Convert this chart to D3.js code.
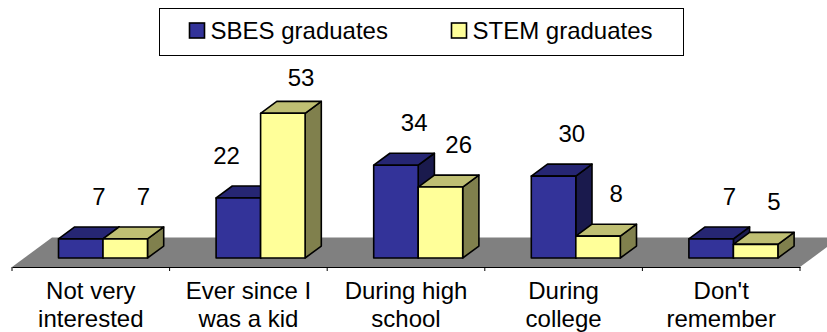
<!DOCTYPE html>
<html>
<head>
<meta charset="utf-8">
<script src="https://cdn.jsdelivr.net/npm/d3@7"></script>
<style>
  html, body { margin: 0; padding: 0; background: #fff; }
  svg { display: block; }
  text { font-family: "Liberation Sans", Arial, sans-serif; fill: #000; }
</style>
</head>
<body>
<svg id="chart" width="827" height="332"></svg>
<script>
// Data
const categories = [
  ["Not very", "interested"],
  ["Ever since I", "was a kid"],
  ["During high", "school"],
  ["During", "college"],
  ["Don't", "remember"]
];
const seriesNames = ["SBES graduates", "STEM graduates"];
const sbesValues = [7, 22, 34, 30, 7];
const stemValues = [7, 53, 26, 8, 5];

// Colours: front face, top face (75%), side face (50%)
const palette = {
  "SBES graduates": { front: "#333399", top: "#262673", side: "#1a1a4d" },
  "STEM graduates": { front: "#ffff99", top: "#bfbf73", side: "#80804d" }
};

const svg = d3.select("#chart");

// Floor geometry (oblique projection)
const floorFrontY = 267;
const depth = { x: 40, y: -29.5 };     // full floor depth vector
const barDepthStart = 0.305, barDepthEnd = 0.71;

const x = d3.scaleBand()
  .domain(d3.range(categories.length))
  .range([12, 800])
  .paddingInner(0).paddingOuter(0);

const xs = d3.scaleBand()
  .domain(seriesNames)
  .range([34.3, x.bandwidth() - 34.3])
  .paddingInner(0).paddingOuter(0);

const barBaseY = floorFrontY + depth.y * barDepthStart;   // front bottom of bars
const y = d3.scaleLinear().domain([0, 60]).range([barBaseY, barBaseY - 60 * 2.73]);

const off0 = { x: depth.x * barDepthStart, y: 0 };
const dd = { x: depth.x * (barDepthEnd - barDepthStart), y: depth.y * (barDepthEnd - barDepthStart) };

// Floor
const [fx0, fx1] = x.range();
svg.append("path")
  .attr("d", `M${fx0},${floorFrontY} L${fx1},${floorFrontY} L${fx1 + depth.x},${floorFrontY + depth.y} L${fx0 + depth.x},${floorFrontY + depth.y} Z`)
  .attr("fill", "#808080");

// Category axis along the front edge of the floor
const axis = d3.axisBottom(x).tickSize(0).tickFormat("");
const axisG = svg.append("g").attr("transform", `translate(0,${floorFrontY})`).call(axis);
axisG.select(".domain").attr("stroke", "#000").attr("stroke-width", 1);
const boundaries = d3.range(categories.length + 1).map(i => fx0 + i * x.step());
svg.append("g").selectAll("line").data(boundaries).join("line")
  .attr("x1", d => d).attr("x2", d => d)
  .attr("y1", floorFrontY).attr("y2", floorFrontY + 4)
  .attr("stroke", "#000").attr("stroke-width", 1);

// Bars
const barData = [];
categories.forEach((c, i) => {
  seriesNames.forEach((s, j) => {
    const v = (j === 0 ? sbesValues : stemValues)[i];
    barData.push({ i, series: s, value: v });
  });
});

const barsG = svg.append("g");
barData.forEach(d => {
  const x0 = x(d.i) + xs(d.series) + off0.x;
  const x1 = x0 + xs.bandwidth();
  const yb = y(0), yt = y(d.value);
  const col = palette[d.series];
  const g = barsG.append("g")
    .attr("stroke", "#000").attr("stroke-width", 1.6).attr("stroke-linejoin", "round");
  // side face
  g.append("path")
    .attr("d", `M${x1},${yb} L${x1 + dd.x},${yb + dd.y} L${x1 + dd.x},${yt + dd.y} L${x1},${yt} Z`)
    .attr("fill", col.side);
  // top face
  g.append("path")
    .attr("d", `M${x0},${yt} L${x1},${yt} L${x1 + dd.x},${yt + dd.y} L${x0 + dd.x},${yt + dd.y} Z`)
    .attr("fill", col.top);
  // front face
  g.append("rect")
    .attr("x", x0).attr("y", yt).attr("width", x1 - x0).attr("height", yb - yt)
    .attr("fill", col.front);
  d.frontCx = (x0 + x1) / 2;
  d.backCx = d.frontCx + dd.x;
  d.backTop = yt + dd.y;
});

// Value labels above the back edge of each bar's top face
const plotTop = 70;
const labelSize = 24;
barData.forEach((d, k) => {
  let lx = d.backCx + 2;
  let ly = Math.max(d.backTop - 22, plotTop + 16);
  let anchor = "middle";
  const next = barData[k + 1];
  if (next && next.i === d.i && next.backTop < ly) {
    // a taller neighbour would hide the label: pull it to the left
    lx = d.frontCx + 1.5;
    anchor = "end";
  }
  svg.append("text")
    .attr("x", lx).attr("y", ly)
    .attr("text-anchor", anchor)
    .attr("font-size", labelSize)
    .text(d.value);
});

// Category labels
const catG = svg.append("g");
categories.forEach((lines, i) => {
  const t = catG.append("text")
    .attr("text-anchor", "middle")
    .attr("font-size", 24);
  lines.forEach((ln, li) => {
    t.append("tspan")
      .attr("x", x(i) + x.bandwidth() / 2)
      .attr("y", 299 + li * 28)
      .text(ln);
  });
});

// Legend
const legend = svg.append("g");
legend.append("rect")
  .attr("x", 159.5).attr("y", 8.5).attr("width", 524).attr("height", 47)
  .attr("fill", "#fff").attr("stroke", "#000").attr("stroke-width", 1);
const legendX = [189.5, 451.5];
seriesNames.forEach((s, j) => {
  legend.append("rect")
    .attr("x", legendX[j]).attr("y", 23).attr("width", 15).attr("height", 15)
    .attr("fill", palette[s].front).attr("stroke", "#000").attr("stroke-width", 1.6);
  legend.append("text")
    .attr("x", legendX[j] + 21).attr("y", 39)
    .attr("font-size", 24)
    .text(s);
});
</script>
</body>
</html>
